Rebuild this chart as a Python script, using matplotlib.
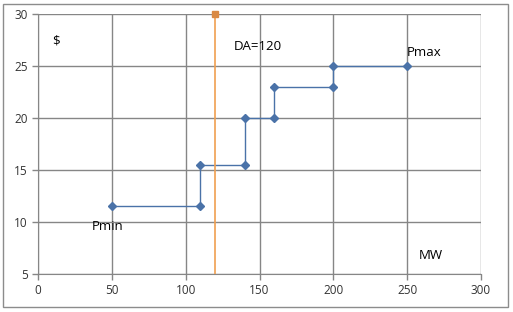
import matplotlib.pyplot as plt
from matplotlib.patches import Rectangle

# supply curve (step offers)
mw = [50, 110, 110, 140, 140, 160, 160, 200, 200, 250]
price = [11.5, 11.5, 15.5, 15.5, 20, 20, 23, 23, 25, 25]

# day-ahead demand line
da_x = [120, 120]
da_y = [5, 30]

GRID = "#868686"
plt.rcParams['font.family'] = ['Open Sans', 'DejaVu Sans']

fig = plt.figure(figsize=(5.13, 3.12), dpi=100)
ax = fig.add_axes([38/513, 1 - 274/312, 443/513, 260/312])

ax.plot(mw, price, color="#4a72a8", lw=1, marker="D", ms=4, zorder=3)
ax.plot(da_x, da_y, color="#f0a050", lw=1.2, zorder=3)
ax.plot([da_x[1]], [da_y[1]], color="#d98a45", marker="s", ms=5, zorder=4, clip_on=False)

ax.set_xlim(0, 300)
ax.set_ylim(5, 30)
ax.set_xticks(range(0, 301, 50))
ax.set_yticks(range(5, 31, 5))
ax.grid(True, color=GRID, lw=1)
ax.set_axisbelow(True)
for s in ["top", "right"]:
    ax.spines[s].set_visible(False)
for s in ["left", "bottom"]:
    ax.spines[s].set_color(GRID)
ax.tick_params(colors=GRID, labelcolor="#333333", labelsize=8.5, length=4, width=1)

ax.text(9.5, 27.4, "$", fontsize=9.5, va="center")
ax.text(132.5, 26.9, "DA=120", fontsize=9.5, va="center")
ax.text(249.5, 26.3, "Pmax", fontsize=9.5, va="center")
ax.text(36.5, 9.6, "Pmin", fontsize=9.5, va="center")
ax.text(258, 6.8, "MW", fontsize=9.5, va="center")

fig.patches.append(Rectangle((3/513, 5/312), 505/513, 303/312, transform=fig.transFigure,
                             fill=False, edgecolor="#8c8c8c", lw=1))

fig.savefig("out.png", dpi=100)
